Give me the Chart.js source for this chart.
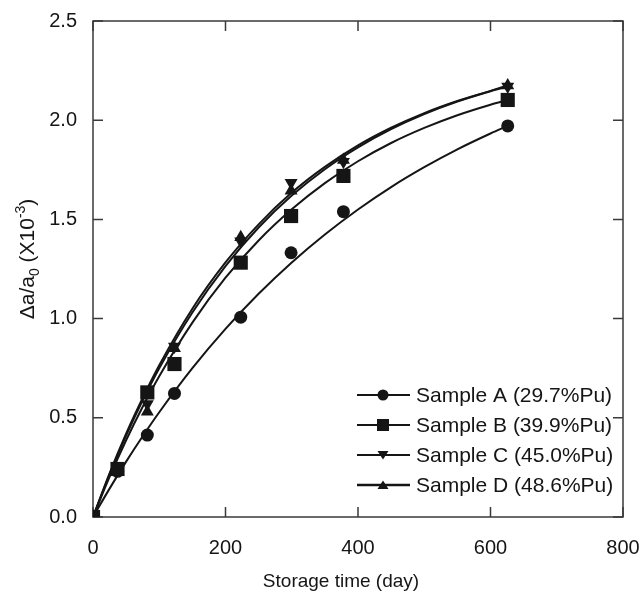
<!DOCTYPE html>
<html>
<head>
<meta charset="utf-8">
<script src="https://cdn.jsdelivr.net/npm/chart.js@4/dist/chart.umd.min.js"></script>
<style>
  body { margin: 0; background: #fff; }
  #wrap { width: 642px; height: 592px; }
</style>
</head>
<body>
<div id="wrap"><canvas id="lattice" width="642" height="592"></canvas></div>
<script>
// measured points (storage time in days, delta a / a0 in 1e-3)
const days = [0, 37, 82, 123, 223, 299, 378, 626];
const sampleA = [0, 0.23, 0.413, 0.623, 1.007, 1.332, 1.539, 1.971];
const sampleB = [0, 0.242, 0.628, 0.771, 1.282, 1.517, 1.719, 2.102];
const sampleC = [0, 0.24, 0.57, 0.86, 1.39, 1.685, 1.79, 2.17];
const sampleD = [0, 0.24, 0.53, 0.85, 1.41, 1.645, 1.80, 2.175];

// fitted curves
const fitDays = [0, 25, 50, 75, 100, 150, 200, 250, 300, 350, 400, 450, 500, 550, 600, 626];
const fitA = [0, 0.143, 0.279, 0.407, 0.528, 0.750, 0.948, 1.125, 1.283, 1.424, 1.550, 1.663, 1.763, 1.853, 1.933, 1.971];
const fitB = [0, 0.202, 0.387, 0.556, 0.710, 0.980, 1.206, 1.394, 1.551, 1.683, 1.793, 1.885, 1.961, 2.025, 2.078, 2.102];
const fitC = [0, 0.215, 0.410, 0.588, 0.750, 1.031, 1.265, 1.459, 1.620, 1.753, 1.863, 1.955, 2.031, 2.094, 2.146, 2.170];
const fitD = [0, 0.220, 0.420, 0.600, 0.765, 1.050, 1.283, 1.475, 1.635, 1.765, 1.873, 1.962, 2.036, 2.097, 2.148, 2.175];

const labels = ["Sample A (29.7%Pu)", "Sample B (39.9%Pu)", "Sample C (45.0%Pu)", "Sample D (48.6%Pu)"];
const xTicks = [0, 200, 400, 600, 800];
const yTicks = [0, 0.5, 1.0, 1.5, 2.0, 2.5];

const FONT = "'Liberation Sans', Arial, sans-serif";
const INK = "#151515";
const AXIS = "#3a3a3a";

function pts(xs, ys) {
    return xs.map((x, i) => ({ x: x, y: ys[i] }));
}

const markers = [
    { style: "circle", radius: 6.5, rotation: 0 },
    { style: "rect", radius: 10, rotation: 0 },
    { style: "triangle", radius: 7.5, rotation: 180 },
    { style: "triangle", radius: 7.5, rotation: 0 }
];

const pointSets = [sampleA, sampleB, sampleC, sampleD].map((ys, i) => ({
    label: labels[i],
    data: pts(days, ys),
    showLine: false,
    pointStyle: markers[i].style,
    pointRadius: markers[i].radius,
    pointRotation: markers[i].rotation,
    backgroundColor: INK,
    borderColor: INK,
    borderWidth: 0,
    order: 1
}));

const curveSets = [fitA, fitB, fitC, fitD].map((ys, i) => ({
    label: labels[i] + " fit",
    data: pts(fitDays, ys),
    showLine: true,
    pointRadius: 0,
    borderColor: INK,
    borderWidth: 2,
    cubicInterpolationMode: "monotone",
    fill: false,
    order: 2
}));

// box, inward ticks on all four sides
const framePlugin = {
    id: "frame",
    beforeDatasetsDraw(chart) {
        const ctx = chart.ctx;
        const a = chart.chartArea;
        const xs = chart.scales.x, ys = chart.scales.y;
        ctx.save();
        ctx.strokeStyle = AXIS;
        ctx.lineWidth = 1.5;
        ctx.strokeRect(a.left, a.top, a.right - a.left, a.bottom - a.top);
        ctx.beginPath();
        xTicks.forEach(v => {
            const px = xs.getPixelForValue(v);
            ctx.moveTo(px, a.bottom); ctx.lineTo(px, a.bottom - 10);
            ctx.moveTo(px, a.top); ctx.lineTo(px, a.top + 10);
        });
        yTicks.forEach(v => {
            const py = ys.getPixelForValue(v);
            ctx.moveTo(a.left, py); ctx.lineTo(a.left + 10, py);
            ctx.moveTo(a.right, py); ctx.lineTo(a.right - 10, py);
        });
        ctx.stroke();
        ctx.restore();
    },
    afterDraw(chart) {
        const ctx = chart.ctx;
        const a = chart.chartArea;

        // x title sits a bit left of the axis centre in the original
        ctx.save();
        ctx.font = "19px " + FONT;
        ctx.fillStyle = INK;
        ctx.textAlign = "center";
        ctx.textBaseline = "alphabetic";
        ctx.fillText("Storage time (day)", a.left + 248, a.bottom + 70);
        ctx.restore();

        // y title with subscript and superscript
        const parts = [
            { t: "\u0394a/a", size: 21, dy: 0 },
            { t: "0", size: 14, dy: 5 },
            { t: " (X10", size: 21, dy: 0 },
            { t: "-3", size: 14, dy: -9 },
            { t: ")", size: 21, dy: 0 }
        ];
        ctx.save();
        ctx.fillStyle = INK;
        ctx.textBaseline = "alphabetic";
        ctx.textAlign = "left";
        let total = 0;
        parts.forEach(p => {
            ctx.font = p.size + "px " + FONT;
            p.w = ctx.measureText(p.t).width;
            total += p.w;
        });
        ctx.translate(26, 259);
        ctx.rotate(-Math.PI / 2);
        let cx = -total / 2;
        parts.forEach(p => {
            ctx.font = p.size + "px " + FONT;
            ctx.fillText(p.t, cx, 8 + p.dy);
            cx += p.w;
        });
        ctx.restore();

        // legend inside the plot, lower right
        const lx = a.right - 266;
        const ly = a.bottom - 122;
        ctx.save();
        ctx.font = "21px " + FONT;
        ctx.textBaseline = "middle";
        ctx.fillStyle = INK;
        ctx.strokeStyle = INK;
        labels.forEach((lab, i) => {
            const y = ly + i * 30;
            ctx.lineWidth = i === 3 ? 2.6 : 2;
            ctx.beginPath();
            ctx.moveTo(lx, y);
            ctx.lineTo(lx + 53, y);
            ctx.stroke();
            const mx = lx + 26;
            ctx.beginPath();
            if (i === 0) {
                ctx.arc(mx, y, 5.5, 0, Math.PI * 2);
            } else if (i === 1) {
                ctx.rect(mx - 6, y - 6, 12, 12);
            } else if (i === 2) {
                ctx.moveTo(mx - 5.5, y - 4); ctx.lineTo(mx + 5.5, y - 4); ctx.lineTo(mx, y + 4.5);
            } else {
                ctx.moveTo(mx - 5.5, y + 4); ctx.lineTo(mx + 5.5, y + 4); ctx.lineTo(mx, y - 4.5);
            }
            ctx.closePath();
            ctx.fill();
            ctx.fillText(lab, lx + 59, y + 1);
        });
        ctx.restore();
    }
};

document.addEventListener("DOMContentLoaded", function () {
    const ctx = document.getElementById("lattice").getContext("2d");
    new Chart(ctx, {
        type: "scatter",
        data: { datasets: pointSets.concat(curveSets) },
        options: {
            responsive: false,
            animation: false,
            layout: { padding: { left: 0, right: 19, top: 21, bottom: 0 } },
            plugins: {
                legend: { display: false },
                tooltip: { enabled: false }
            },
            scales: {
                x: {
                    type: "linear",
                    min: 0,
                    max: 800,
                    grid: { display: false, drawTicks: false },
                    border: { display: false },
                    afterBuildTicks: s => { s.ticks = xTicks.map(v => ({ value: v })); },
                    afterFit: s => {
                        s.height = 75;
                        s.paddingLeft = 0;
                        s.paddingRight = 0;
                    },
                    ticks: {
                        padding: 19,
                        color: INK,
                        font: { family: FONT, size: 20 },
                        maxRotation: 0
                    }
                },
                y: {
                    type: "linear",
                    min: 0,
                    max: 2.5,
                    grid: { display: false, drawTicks: false },
                    border: { display: false },
                    afterBuildTicks: s => { s.ticks = yTicks.map(v => ({ value: v })); },
                    afterFit: s => {
                        s.width = 93;
                        s.paddingTop = 0;
                        s.paddingBottom = 0;
                    },
                    ticks: {
                        padding: 16,
                        color: INK,
                        font: { family: FONT, size: 20 },
                        callback: v => Number(v).toFixed(1)
                    }
                }
            }
        },
        plugins: [framePlugin]
    });
});
</script>
</body>
</html>
